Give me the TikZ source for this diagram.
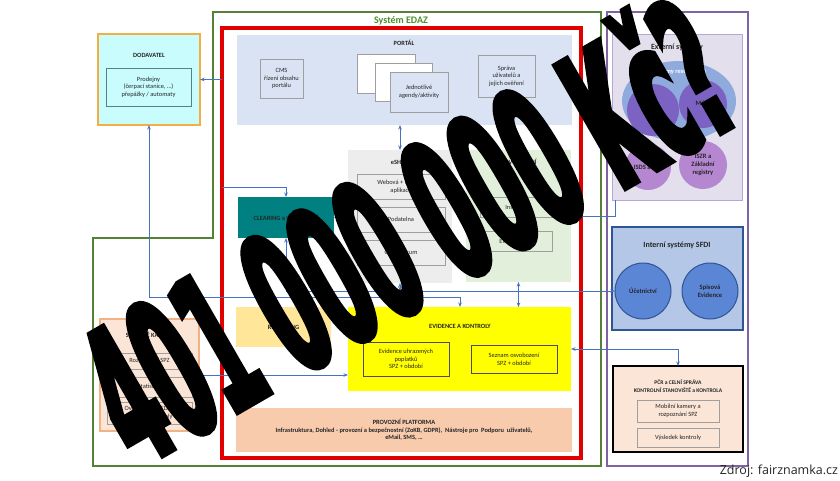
\documentclass[tikz,border=0pt]{standalone}
\usepackage{fontspec}
\setmainfont{Carlito}
\newfontfamily\zdrojfont{Open Sans}
\newfontfamily\bigfont{DejaVu Sans}[FakeStretch=0.39,BoldFeatures={FakeBold=2.5}]
\usetikzlibrary{arrows.meta,shapes.geometric}
\definecolor{portalc}{HTML}{DAE3F3}
\definecolor{eshopc}{HTML}{EDEDED}
\definecolor{osvc}{HTML}{E2EFDA}
\definecolor{tealc}{HTML}{008080}
\definecolor{repc}{HTML}{FFE699}
\definecolor{yelc}{HTML}{FFFF00}
\definecolor{provc}{HTML}{F8CBAD}
\definecolor{dodc}{HTML}{C9FCFC}
\definecolor{orangec}{HTML}{F2B044}
\definecolor{orangel}{HTML}{F4B183}
\definecolor{statc}{HTML}{FBE5D6}
\definecolor{extc}{HTML}{E4DFEC}
\definecolor{extb}{HTML}{B4A7D6}
\definecolor{ellc}{HTML}{8FAADC}
\definecolor{dpurp}{HTML}{7B62C3}
\definecolor{lpurp}{HTML}{B487D0}
\definecolor{intc}{HTML}{B4C7E7}
\definecolor{intb}{HTML}{2F5597}
\definecolor{circb}{HTML}{5B85D5}
\definecolor{purpb}{HTML}{8064A2}
\definecolor{greenb}{HTML}{548235}
\definecolor{greent}{HTML}{4C8C2B}
\definecolor{arrc}{HTML}{4472C4}
\definecolor{redb}{HTML}{E00000}
\definecolor{txt}{HTML}{262626}
\newcommand\mybox[7]{\node[#2,anchor=north west,minimum width={(#5-#3)*1pt},minimum height={(#6-#4)*1pt}] (#1) at (#3,#4) {#7};}
\begin{document}
\begin{tikzpicture}[x=1pt,y=-1pt,
  every node/.style={inner sep=0pt,outer sep=0pt,text=txt},
  cont/.style={draw=none},
  ibox/.style={draw=gray!75,line width=0.6pt,align=center,font=\fontsize{6.4}{7.6}\selectfont},
  ttl/.style={font=\fontsize{6.4}{7.6}\selectfont\bfseries,align=center},
  conn/.style={draw=arrc,line width=0.8pt,-{Stealth[length=4.5pt,width=3.5pt]}},
  conn2/.style={draw=arrc,line width=0.8pt,{Stealth[length=4.5pt,width=3.5pt]}-{Stealth[length=4.5pt,width=3.5pt]}},
  ]
\useasboundingbox (0,0) rectangle (840,480);
\fill[white] (0,0) rectangle (840,480);

% outer frames
\draw[greenb,line width=1.8pt] (213,238) -- (213,12) -- (601,12) -- (601,466) -- (93,466) -- (93,238) -- cycle;
\node[text=greent,font=\fontsize{10}{12}\selectfont\bfseries] (edaz) at (401,21) {Systém EDAZ};
\draw[purpb,line width=1.1pt] (607,12) rectangle (748,466);
\draw[redb,line width=4.5pt] (222,28) rectangle (581,458);

% PORTAL
\mybox{portal}{cont,fill=portalc}{237}{35}{572}{125}{}
\node[ttl] (portalT) at (404,43) {PORTÁL};
\mybox{cms}{ibox,fill=portalc}{260}{59}{303}{98}{CMS\\řízení obsahu\\portálu}
\mybox{ag1}{ibox,fill=white}{357}{54}{415}{93}{}
\mybox{ag2}{ibox,fill=white}{375}{63}{432}{101}{}
\mybox{ag3}{ibox,fill=portalc}{390}{72}{448}{112}{Jednotlivé\\agendy/aktivity}
\mybox{sprava}{ibox,fill=portalc}{478}{55}{535}{97}{Správa\\uživatelů a\\jejich ověření}

% eSHOP
\mybox{eshop}{cont,fill=eshopc}{348}{150}{452}{283}{}
\node[ttl] (eshopT) at (400,162) {eSHOP};
\mybox{web}{ibox,fill=eshopc}{357}{174}{445}{199}{Webová + Mobilní\\aplikace}
\mybox{pod}{ibox,fill=eshopc}{357}{207}{445}{232}{Podatelna}
\mybox{call}{ibox,fill=eshopc}{357}{240}{445}{265}{Call centrum}

% OSVOBOZENI
\mybox{osv}{cont,fill=osvc}{466}{150}{571}{282}{}
\node[ttl] (osvT) at (519,162) {OSVOBOZENÍ};
\mybox{inst}{ibox,fill=osvc}{480}{197}{553}{217}{Instituce}
\mybox{elek}{ibox,fill=osvc}{480}{231}{552}{251}{Elektromobil}

% CLEARING, REPORTING
\mybox{clr}{cont,fill=tealc,font=\fontsize{6.4}{7.6}\selectfont\bfseries}{238}{197}{334}{238}{CLEARING a ÚČETNICTVÍ}
\mybox{rep}{cont,fill=repc,font=\fontsize{6.4}{7.6}\selectfont\bfseries}{236}{307}{331}{347}{REPORTING}

% EVIDENCE
\mybox{ev}{cont,fill=yelc}{348}{307}{571}{391}{}
\node[ttl] (evT) at (460,326) {EVIDENCE A KONTROLY};
\mybox{evu}{ibox,draw=gray!60!black,fill=yelc}{363}{342}{449}{376}{Evidence uhrazených\\poplatků\\SPZ + období}
\mybox{evs}{ibox,draw=gray!60!black,fill=yelc}{471}{345}{557}{373}{Seznam osvobození\\SPZ + období}

% PROVOZNI
\mybox{prov}{cont,fill=provc,align=center,font=\fontsize{6.4}{7.6}\selectfont\bfseries}{236}{408}{572}{452}{PROVOZNÍ PLATFORMA\\Infrastruktura, Dohled - provozní a bezpečnostní (ZoKB, GDPR),\ \ Nástroje pro\ \ Podporu\ \ uživatelů,\\eMail, SMS, …}

% DODAVATEL
\mybox{dod}{draw=orangec,line width=1.6pt,fill=dodc}{98}{34}{200}{125}{}
\node[ttl] (dodT) at (149,55) {DODAVATEL};
\mybox{prod}{ibox,draw=gray!70!teal,fill=dodc}{106}{68}{191}{106}{Prodejny\\(čerpací stanice, …)\\přepážky / automaty}

% STATICKE
\mybox{stat}{draw=orangel,line width=1.4pt,fill=statc}{100}{319}{199}{431}{}
\node[ttl] (statT) at (150,335) {STATICKÉ KAMERY};
\mybox{rozp}{ibox,fill=statc}{107}{353}{192}{369}{Rozpoznání SPZ}
\mybox{stst}{ibox,fill=statc}{107}{377}{192}{397}{Statistiky}
\mybox{over}{ibox,fill=statc}{107}{402}{192}{424}{Ověření dat v EDAZ\\Evidence kontroly}

% EXTERNI
\mybox{ext}{draw=extb,line width=0.8pt,fill=extc}{612}{34}{742}{200}{}
\node[font=\fontsize{8}{9}\selectfont\bfseries] (extT) at (677,47) {Externí systémy};
\node[ellipse,fill=ellc,minimum width=114pt,minimum height=80pt] (ell) at (679,101) {};
\node[font=\fontsize{6.4}{7.6}\selectfont\bfseries,text=white] (ellT) at (679,72) {Systémy resortu MD};
\node[circle,fill=dpurp,minimum size=52pt] (c1) at (653,110) {};
\node[circle,fill=dpurp,minimum size=48pt,font=\fontsize{6.6}{7.6}\selectfont\bfseries] (myto) at (703,104) {Mýto};
\node[circle,fill=lpurp,minimum size=46pt,font=\fontsize{6.6}{7.6}\selectfont\bfseries] (isds) at (648,167) {ISDS a NIA};
\node[circle,fill=lpurp,minimum size=48pt,align=center,font=\fontsize{6.6}{7.8}\selectfont\bfseries] (iszr) at (703,165) {ISZR a\\Základní\\registry};

% INTERNI
\mybox{int}{draw=intb,line width=1.4pt,fill=intc}{612}{227}{743}{330}{}
\node[font=\fontsize{8}{9}\selectfont\bfseries] (intT) at (677,245) {Interní systémy SFDI};
\node[circle,draw=intb,line width=1pt,fill=circb,minimum size=56pt,font=\fontsize{6.6}{7.8}\selectfont\bfseries] (ucet) at (643,291) {Účetnictví};
\node[circle,draw=intb,line width=1pt,fill=circb,minimum size=56pt,align=center,font=\fontsize{6.6}{7.8}\selectfont\bfseries] (spis) at (710,291) {Spisová\\Evidence};

% PCR
\mybox{pcr}{draw=black,line width=1.5pt,fill=statc}{613}{366}{743}{452}{}
\node[font=\fontsize{5.6}{7.4}\selectfont\bfseries,align=center] (pcrT) at (678,386) {PČR a CELNÍ SPRÁVA\\KONTROLNÍ STANOVIŠTĚ a KONTROLA};
\mybox{mob}{ibox,fill=statc}{637}{400}{719}{422}{Mobilní kamery a\\rozpoznání SPZ}
\mybox{vys}{ibox,fill=statc}{637}{428}{719}{447}{Výsledek kontroly}

% connectors
\coordinate (a1) at (222,79.5);
\draw[conn] (a1) -- (dod.east);
\coordinate (j2) at (460,297);
\draw[conn2] (dod.south) |- (j2) -- (j2 |- ev.north);
\coordinate (a3) at (222,187);
\draw[conn] (a3) -| (clr.north);
\draw[conn] (eshop.west |- clr.east) -- (clr.east);
\draw[conn2] (eshop.north |- portal.south) -- (eshop.north);
\draw[conn2] (clr.south) |- (ucet.west);
\coordinate (j7) at (400,291);
\draw[conn2] (eshop.south) -- (j7);
\draw[conn2] (osv.south) -- (osv.south |- ev.north);
\coordinate (j9) at (615,0);
\draw[conn] (ext.south -| j9) |- (osv.east);
\draw[conn2] (ev.east) -| (pcr.north);
\coordinate (y375) at (0,375);
\draw[conn] (stat.east |- y375) -- (ev.west |- y375);

% source
\node[font=\zdrojfont\fontsize{12.5}{14}\selectfont,text=black!85,anchor=east] (src) at (838,471) {Zdroj: fairznamka.cz};

% overlay
\node[rotate=30,anchor=base,text=black,font=\bigfont\bfseries\fontsize{195}{195}\selectfont] (big) at (443,294) {401 000 000 Kč?};
\end{tikzpicture}
\end{document}
